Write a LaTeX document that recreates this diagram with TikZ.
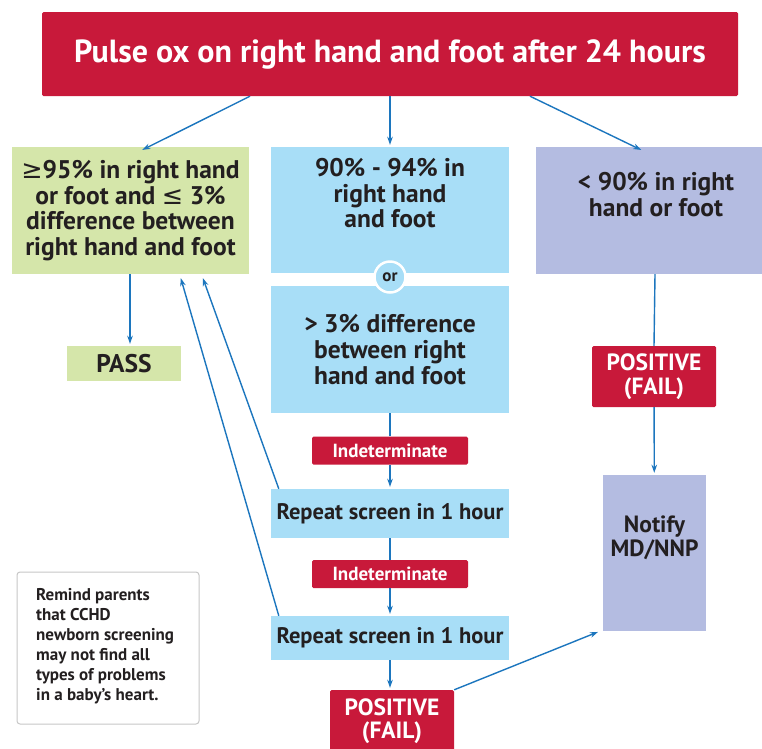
\documentclass[tikz,border=0pt]{standalone}
\usepackage{fontspec}
\setmainfont{PT Sans}
\newfontfamily\symfont{DejaVu Sans}
\usepackage{tikz}
\usetikzlibrary{arrows.meta}
\usetikzlibrary{positioning}
\usetikzlibrary{calc}
\definecolor{ccred}{RGB}{200,25,58}
\definecolor{ccgreen}{RGB}{213,230,170}
\definecolor{ccblue}{RGB}{168,222,247}
\definecolor{ccpurple}{RGB}{180,188,225}
\definecolor{ccarrow}{RGB}{28,118,190}
\definecolor{ccdark}{RGB}{35,31,32}
\newcommand{\titletxt}{\fontsize{32}{36}\selectfont\bfseries}
\newcommand{\boxtxt}{\fontsize{25.5}{25.7}\selectfont\bfseries}
\newcommand{\midtxt}{\fontsize{23.5}{23.5}\selectfont\bfseries}
\newcommand{\reptxt}{\fontsize{22.5}{25}\selectfont\bfseries}
\newcommand{\tagtxt}{\fontsize{19}{21}\selectfont\bfseries}
\newcommand{\notetxt}{\fontsize{17}{20}\selectfont\bfseries}
\newcommand{\geqs}{{\symfont\mdseries ≥}}
\newcommand{\leqs}{{\symfont\mdseries ≤}}

\begin{document}
\begin{tikzpicture}[x=1pt, y=-1pt, every node/.style={align=center, inner sep=0pt, text=ccdark},
	box/.style={minimum width=238pt, minimum height=127pt, font=\boxtxt},
	redbox/.style={fill=ccred, text=white, rounded corners=1.5pt},
	tagbox/.style={redbox, minimum width=156pt, minimum height=28pt, font=\tagtxt},
	line/.style={draw=ccarrow, line width=1.4pt},
	arr/.style={line, -{Stealth[length=8pt,width=5.5pt]}, shorten >=2pt}]
			\clip (0,0) rectangle (762,748);
			\fill[white] (0,0) rectangle (762,748);
			% top
			\node[redbox, minimum width=696pt, minimum height=84pt, font=\titletxt] (t) at (390,54) {Pulse ox on right hand and foot after 24 hours};
			% first row of results
			\node[box, fill=ccgreen, minimum width=237pt] (g) at (130.5,210.5) {\geqs95\% in right hand\\or foot and \leqs\ 3\%\\difference between\\right hand and foot};
			\node[box, fill=ccblue, minimum height=126pt] (b1) at (390,210) {90\% - 94\% in\\right hand\\and foot\\[8pt]};
			\node[box, fill=ccblue] (b2) at (390,349.5) {> 3\% difference\\between right\\hand and foot};
			\node[circle, fill=ccblue, draw=white, line width=2.5pt, minimum size=31pt, font=\fontsize{17}{19}\selectfont\bfseries] (or) at (390,277) {or};
			\node[box, fill=ccpurple, minimum width=240pt] (p) at (656,210.5) {< 90\% in right\\hand or foot\\[6pt]};
			% left column
			\node[fill=ccgreen, minimum width=114pt, minimum height=35pt, font=\boxtxt] (pass) at (124,363.5) {PASS};
			\node[fill=white, draw=black!22, line width=1pt, rounded corners=3pt, minimum width=182pt, minimum height=152pt] (note) at (108,648) {};
			\node[align=left, anchor=west, font=\notetxt] (notetext) at (36,646) {Remind parents\\that CCHD\\newborn screening\\may not find all\\types of problems\\in a baby’s heart.};
			% middle column
			\node[tagbox] (ind1) at (390,450.5) {Indeterminate};
			\node[box, fill=ccblue, minimum height=49pt, font=\reptxt] (rep1) at (390,513.5) {Repeat screen in 1 hour};
			\node[tagbox] (ind2) at (390,574) {Indeterminate};
			\node[box, fill=ccblue, minimum height=44pt, font=\reptxt] (rep2) at (390,638) {Repeat screen in 1 hour};
			\node[redbox, minimum width=124pt, minimum height=62pt, font=\midtxt] (fail2) at (392,721) {POSITIVE\\(FAIL)};
			% right column
			\node[redbox, minimum width=124pt, minimum height=61pt, font=\midtxt] (fail1) at (654,376.5) {POSITIVE\\(FAIL)};
			\node[fill=ccpurple, minimum width=103pt, minimum height=156pt, font=\midtxt] (notify) at (654.5,553) {Notify\\MD/NNP\\[10pt]};
			% from the top
			\draw[arr] ([xshift=-140pt]t.south) -- ([xshift=10pt,yshift=-4pt]g.north);
			\draw[arr] (t.south) -- (b1.north);
			\draw[arr] ([xshift=140pt]t.south) -- ([xshift=-13pt,yshift=-4pt]p.north);
			% left
			\draw[arr] ([xshift=-0.5pt]g.south) -- ([xshift=6pt]pass.north);
			\draw[arr] ([xshift=8pt]rep1.north west) -- ([xshift=-47pt,yshift=-2pt]g.south east);
			\draw[arr] ([xshift=8pt]rep2.north west) -- ([xshift=-69pt,yshift=-2pt]g.south east);
			% middle
			\draw[line] (b2) -- (ind1);
			\draw[arr] (ind1) -- (rep1);
			\draw[line] (rep1) -- (ind2);
			\draw[arr] (ind2) -- (rep2);
			\draw[arr] (rep2) -- ([xshift=-2pt]fail2.north);
			% right
			\draw[line] ([xshift=-1pt]p.south) -- (fail1.north);
			\draw[arr] (fail1) -- (notify);
			\draw[arr] (fail2.north east) -- ([xshift=-3pt]notify.south west);
		\end{tikzpicture}
\end{document}
